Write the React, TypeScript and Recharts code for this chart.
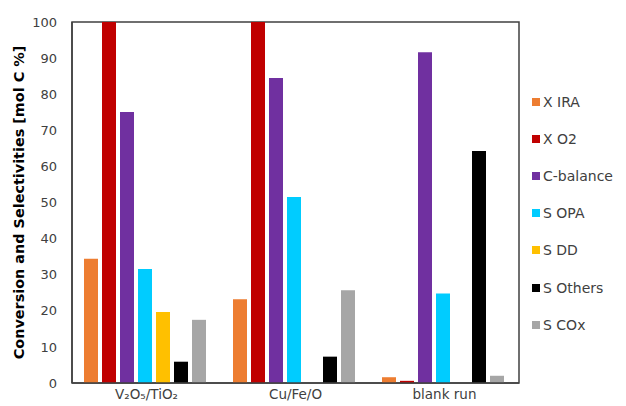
import React from "react";
import { BarChart, Bar, XAxis, YAxis, ReferenceArea } from "recharts";

const categories = ["V₂O₅/TiO₂", "Cu/Fe/O", "blank run"];
const xIRA = [34.4, 23.2, 1.6];
const xO2 = [100, 100, 0.6];
const cBalance = [75.1, 84.5, 91.6];
const sOPA = [31.6, 51.5, 24.8];
const sDD = [19.7, 0, 0];
const sOthers = [5.9, 7.3, 64.3];
const sCOx = [17.5, 25.7, 2.0];
const yTicks = [0, 10, 20, 30, 40, 50, 60, 70, 80, 90, 100];

const series = [
  { key: "xIRA", name: "X IRA", color: "#ED7D31", values: xIRA },
  { key: "xO2", name: "X O2", color: "#C00000", values: xO2 },
  { key: "cBalance", name: "C-balance", color: "#7030A0", values: cBalance },
  { key: "sOPA", name: "S OPA", color: "#00CCFF", values: sOPA },
  { key: "sDD", name: "S DD", color: "#FFC000", values: sDD },
  { key: "sOthers", name: "S Others", color: "#000000", values: sOthers },
  { key: "sCOx", name: "S COx", color: "#A6A6A6", values: sCOx },
];

const data = categories.map((c, i) => {
  const row: any = { category: c };
  series.forEach((s) => (row[s.key] = s.values[i]));
  return row;
});

const FONT = "'DejaVu Sans', sans-serif";

const LegendBox = () => (
  <div style={{ position: "absolute", left: 532, top: 83, fontFamily: FONT }}>
    {series.map((s) => (
      <div key={s.key} style={{ display: "flex", alignItems: "center", height: 37.2, fontSize: 14, color: "#404040", whiteSpace: "nowrap" }}>
        <span style={{ width: 8, height: 8, background: s.color, display: "inline-block", marginRight: 3 }} />
        {s.name}
      </div>
    ))}
  </div>
);

const YLabel = () => (
  <text
    x={19}
    y={202.5}
    transform="rotate(-90 19 202.5)"
    textAnchor="middle"
    dominantBaseline="central"
    fontFamily={FONT}
    fontWeight="bold"
    fontSize={14.4}
    fill="#000"
  >
    Conversion and Selectivities [mol C %]
  </text>
);

export default function App() {
  return (
    <div style={{ position: "absolute", left: 0, top: 0, width: 626, height: 406 }}>
      <BarChart
        width={626}
        height={406}
        data={data}
        margin={{ top: 22, right: 107, bottom: 0, left: 0 }}
        barCategoryGap={12}
        barGap={4}
      >
        <XAxis
          dataKey="category"
          height={23}
          tickLine={false}
          tickSize={0}
          tickMargin={6}
          axisLine={{ stroke: "#404040", strokeWidth: 1.5 }}
          tick={{ fontFamily: FONT, fontSize: 13.5, fill: "#404040" }}
          interval={0}
        />
        <YAxis
          domain={[0, 100]}
          ticks={yTicks}
          interval={0}
          width={72}
          tickLine={false}
          tickSize={0}
          tickMargin={15}
          axisLine={{ stroke: "#404040", strokeWidth: 1.5 }}
          tick={{ fontFamily: FONT, fontSize: 13, fill: "#404040" }}
          label={<YLabel />}
        />
        {series.map((s) => (
          <Bar key={s.key} dataKey={s.key} name={s.name} fill={s.color} isAnimationActive={false} />
        ))}
        <ReferenceArea y1={0} y2={100} fill="none" stroke="#404040" strokeWidth={1.5} ifOverflow="visible" />
      </BarChart>
      <LegendBox />
    </div>
  );
}
